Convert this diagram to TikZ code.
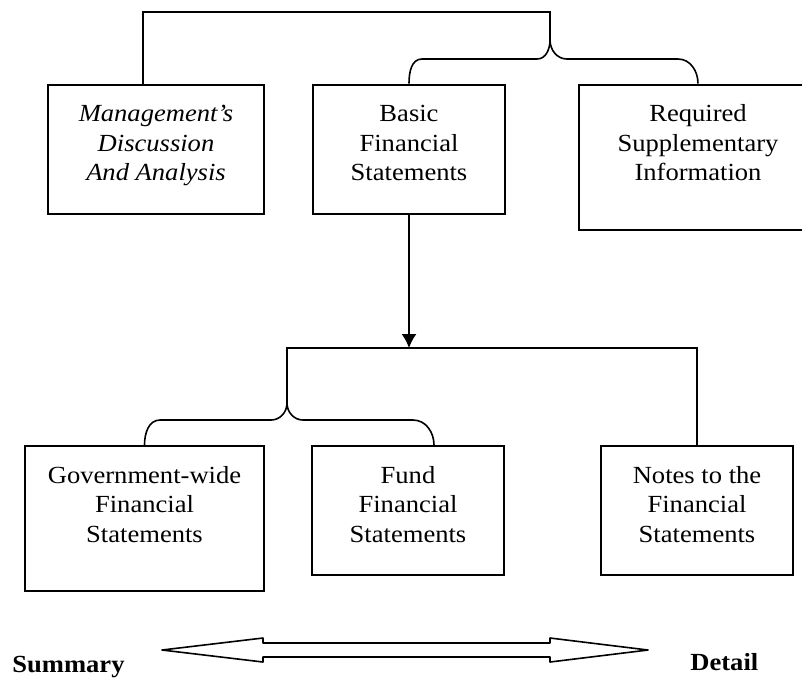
\documentclass[tikz,border=0pt]{standalone}
\usepackage{fontspec}
\setmainfont{Liberation Serif}[FakeStretch=1.08]
\usetikzlibrary{positioning, arrows.meta}
\newcommand\boxfont{\fontsize{12.3}{14.75}\selectfont}
\tikzset{
    box/.style={draw, line width=1pt, inner sep=0pt, align=center, anchor=north west,
        text height=48pt, text depth=16.5pt, font=\boxfont}, % one report part
    tall/.style={text depth=24.5pt}, % the two deeper boxes
    slanted/.style={font=\boxfont\itshape},
    tag/.style={inner sep=0pt, anchor=base west, font=\boxfont\bfseries},
    link/.style={line width=0.8pt},
    >={Latex[length=7pt,width=7.5pt]},
}
\begin{document}
\begin{tikzpicture}[x=0.5pt, y=-0.5pt] % one unit is one pixel, y grows downwards
    \useasboundingbox (0,0) rectangle (802,677);
    \clip (0,0) rectangle (802,677);
    % upper row
    \node[box, slanted, minimum width=108pt] (mda) at (47,83.5) {Management's\\Discussion\\And Analysis};
    \node[box, minimum width=96pt, right=23.5pt of mda.north east, anchor=north west] (bfs) {Basic\\Financial\\Statements};
    \node[box, tall, minimum width=119pt, right=36pt of bfs.north east, anchor=north west] (rsi) {Required\\Supplementary\\Information};
    % lower row
    \node[box, tall, minimum width=119.5pt] (gw) at (24,445) {Government-wide\\Financial\\Statements};
    \node[box, minimum width=96pt, right=23pt of gw.north east, anchor=north west] (fund) {Fund\\Financial\\Statements};
    \node[box, minimum width=96pt, right=47.5pt of fund.north east, anchor=north west] (notes) {Notes to the\\Financial\\Statements};
    \node[tag] (summary) at (12,672) {Summary};
    \node[tag] (detail) at (690,670) {Detail};
    % upper bracket
    \coordinate (top) at (143,12);
    \coordinate (knot) at (550,40);
    \draw[link] (top |- mda.north) -- (top) -| (knot);
    \draw[link] (knot) to[out=-90,in=0] ++(-13,19) -- ++(-115,0) to[out=180,in=90] (bfs.north);
    \draw[link] (knot) to[out=-90,in=180] ++(17,19) -- ++(111,0) to[out=0,in=90] (rsi.north);
    % lower bracket
    \coordinate (split) at (287,348);
    \draw[link, ->] (bfs.south) -- (bfs.south |- split);
    \draw[link] (notes.north) |- (split) -- ++(0,55) coordinate (knot2);
    \draw[link] (knot2) to[out=-90,in=0] ++(-16,17) -- ++(-111,0) to[out=180,in=90] (gw.north);
    \draw[link] (knot2) to[out=-90,in=180] ++(16,17) -- ++(110,0) to[out=0,in=90] ([xshift=13pt]fund.north);
    % summary <-> detail
    \draw[link, line join=round] (162,650) -- (263,638) -- (263,643) -- (550,643) -- (550,638) -- (648,650)
        -- (550,662) -- (550,657) -- (263,657) -- (263,662) -- cycle;
\end{tikzpicture}
\end{document}
